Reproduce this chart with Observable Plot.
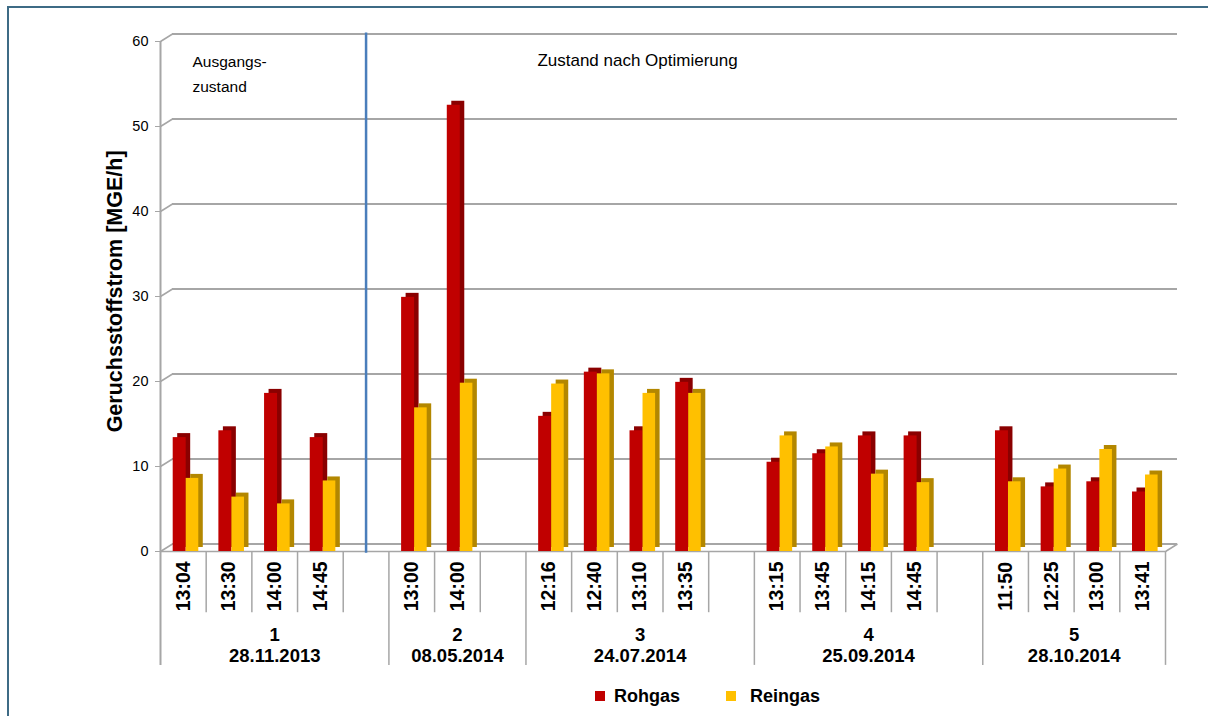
<!DOCTYPE html>
<html>
<head>
<meta charset="utf-8">
<script src="https://cdn.jsdelivr.net/npm/d3@7"></script>
<script src="https://cdn.jsdelivr.net/npm/@observablehq/plot@0.6"></script>
<style>
  body { margin: 0; background: #fff; font-family: "Liberation Sans", Arial, sans-serif; }
  #frame { position: absolute; left: 7px; top: 6px; width: 1201px; height: 710px;
           border-top: 2px solid #3E6B85; border-left: 2px solid #3E6B85; }
  #legend { height: 40px; display: flex; align-items: center; padding-left: 586px;
            font-weight: bold; font-size: 18px; color: #000; }
  .sw { width: 10px; height: 10px; display: inline-block; }
</style>
</head>
<body>
<div id="frame">
  <div id="chart"></div>
  <div id="legend"></div>
</div>
<script>
// ---- data ----
const series = ["Rohgas", "Reingas"];
const seriesColors = ["#C00000", "#FFC000"];
const groups = ["1", "2", "3", "4", "5"];
const groupDates = ["28.11.2013", "08.05.2014", "24.07.2014", "25.09.2014", "28.10.2014"];
// "" = empty category slot (as in the original spreadsheet)
const times = [
  ["13:04", "13:30", "14:00", "14:45", ""],
  ["13:00", "14:00", ""],
  ["12:16", "12:40", "13:10", "13:35", ""],
  ["13:15", "13:45", "14:15", "14:45", ""],
  ["11:50", "12:25", "13:00", "13:41"]
];
const rohgas = [
  [13.4, 14.2, 18.6, 13.4],
  [29.9, 52.5],
  [15.9, 21.1, 14.2, 19.9],
  [10.5, 11.5, 13.6, 13.6],
  [14.2, 7.6, 8.2, 7.0]
];
const reingas = [
  [8.6, 6.4, 5.6, 8.3],
  [16.9, 19.8],
  [19.7, 20.9, 18.6, 18.6],
  [13.6, 12.3, 9.1, 8.1],
  [8.2, 9.7, 12.0, 9.0]
];
const yTicks = [0, 10, 20, 30, 40, 50, 60];
const yLabel = "Geruchsstoffstrom [MGE/h]";
const noteLeft = "Ausgangs-\nzustand";
const noteRight = "Zustand nach Optimierung";

// ---- build tables ----
const rows = [];
const spans = [];
let slot = 0;
groups.forEach((g, gi) => {
  const start = slot;
  times[gi].forEach((t, ti) => {
    rows.push({ slot, group: g, time: t, roh: rohgas[gi][ti], rein: reingas[gi][ti] });
    slot++;
  });
  spans.push({ group: g, date: groupDates[gi], start, end: slot });
});
const nSlots = slot;
const bars = rows.filter(d => d.time !== "");
const blanks = rows.filter(d => d.time === "");
const majorB = [0, ...spans.map(s => s.end)];
const minorB = d3.range(1, nSlots).filter(b => !majorB.includes(b));

// frame geometry
const W = 1199, H = 668;
const mL = 151, mR = 43, mT = 33, mB = 125;
const slotPx = (W - mL - mR) / nSlots;
const unitPx = (H - mT - mB) / 60;
const depthX = 12 / slotPx, depthY = 7.5 / unitPx; // back-wall offset in data units
const grid = "#A6A6A6";

const sideOff = { dx: 4.5, dy: -4 };
const rohInset = { insetLeft: 12.7, insetRight: 20 };
const reinInset = { insetLeft: 25.7, insetRight: 7.4 };

const chart = Plot.plot({
  width: W, height: H,
  marginLeft: mL, marginRight: mR, marginTop: mT, marginBottom: mB,
  style: { fontFamily: "Liberation Sans, Arial, sans-serif", color: "#000", overflow: "visible" },
  x: { type: "linear", domain: [0, nSlots], axis: null },
  y: { domain: [0, 60], axis: null },
  marks: [
    // back wall grid
    Plot.ruleY(yTicks, { x1: 0, x2: nSlots, dx: 12, dy: -7.5, stroke: grid, strokeWidth: 2 }),
    Plot.link(yTicks, { x1: 0, y1: d => d, x2: depthX, y2: d => d + depthY, stroke: grid, strokeWidth: 1.5 }),
    Plot.link([0], { x1: nSlots, y1: 0, x2: nSlots + depthX, y2: depthY, stroke: grid, strokeWidth: 1.5 }),
    Plot.ruleY([0], { x1: 0, x2: nSlots, stroke: grid, strokeWidth: 1.5 }),
    // axis line + category separators
    Plot.ruleX([0], { y1: -13.4, y2: 60, stroke: grid, strokeWidth: 2 }),
    Plot.ruleX(majorB.slice(1), { y1: -13.4, y2: 0, stroke: grid, strokeWidth: 1.5 }),
    Plot.ruleX(minorB, { y1: -7.2, y2: 0, stroke: grid, strokeWidth: 1.5 }),
    // blue divider in first empty slot
    Plot.ruleX(blanks.slice(0, 1), { x: d => d.slot + 0.5, y1: -0.2, y2: 61, stroke: "#4A7EBB", strokeWidth: 2.5 }),
    // 3D side/top faces
    Plot.rectY(bars, { x1: "slot", x2: d => d.slot + 1, y: "roh", fill: "#8A0000", ...rohInset, ...sideOff }),
    Plot.rectY(bars, { x1: "slot", x2: d => d.slot + 1, y: "rein", fill: "#B38700", ...reinInset, ...sideOff }),
    // front faces
    Plot.rectY(bars, { x1: "slot", x2: d => d.slot + 1, y: "roh", fill: seriesColors[0], ...rohInset }),
    Plot.rectY(bars, { x1: "slot", x2: d => d.slot + 1, y: "rein", fill: seriesColors[1], ...reinInset }),
    // y axis
    Plot.axisY(yTicks, { tickSize: 5, tickPadding: 7, fontSize: 14.5, stroke: grid, fill: "#000", label: null }),
    Plot.text([yLabel], { frameAnchor: "left", y: 30.6, dx: -45, rotate: -90, textAnchor: "middle",
      text: d => d, fontSize: 21.5, fontWeight: "bold", fill: "#000" }),
    // category labels
    Plot.text(bars, { x: d => d.slot + 0.5, y: -4.1, text: "time", rotate: -90,
      fontSize: 19.5, fontWeight: "bold", fill: "#000" }),
    Plot.text(spans, { x: d => (d.start + d.end) / 2, y: -11.0, text: d => d.group + "\n" + d.date,
      lineHeight: 1.15, fontSize: 18.5, fontWeight: "bold", fill: "#000" }),
    // annotations
    Plot.text([noteLeft], { x: 0.7, y: 56.5, text: d => d, textAnchor: "start", lineHeight: 1.6,
      fontSize: 15.5, fill: "#000" }),
    Plot.text([noteRight], { x: 8.25, y: 57.8, text: d => d, textAnchor: "start",
      fontSize: 17, fill: "#000" })
  ]
});
document.getElementById("chart").appendChild(chart);

// legend
const lg = document.getElementById("legend");
series.forEach((s, i) => {
  const sw = document.createElement("span");
  sw.className = "sw";
  sw.style.background = seriesColors[i];
  sw.style.marginRight = i === 0 ? "9px" : "14px";
  const tx = document.createElement("span");
  tx.textContent = s;
  if (i === 0) tx.style.marginRight = "46px";
  lg.appendChild(sw);
  lg.appendChild(tx);
});
</script>
</body>
</html>
